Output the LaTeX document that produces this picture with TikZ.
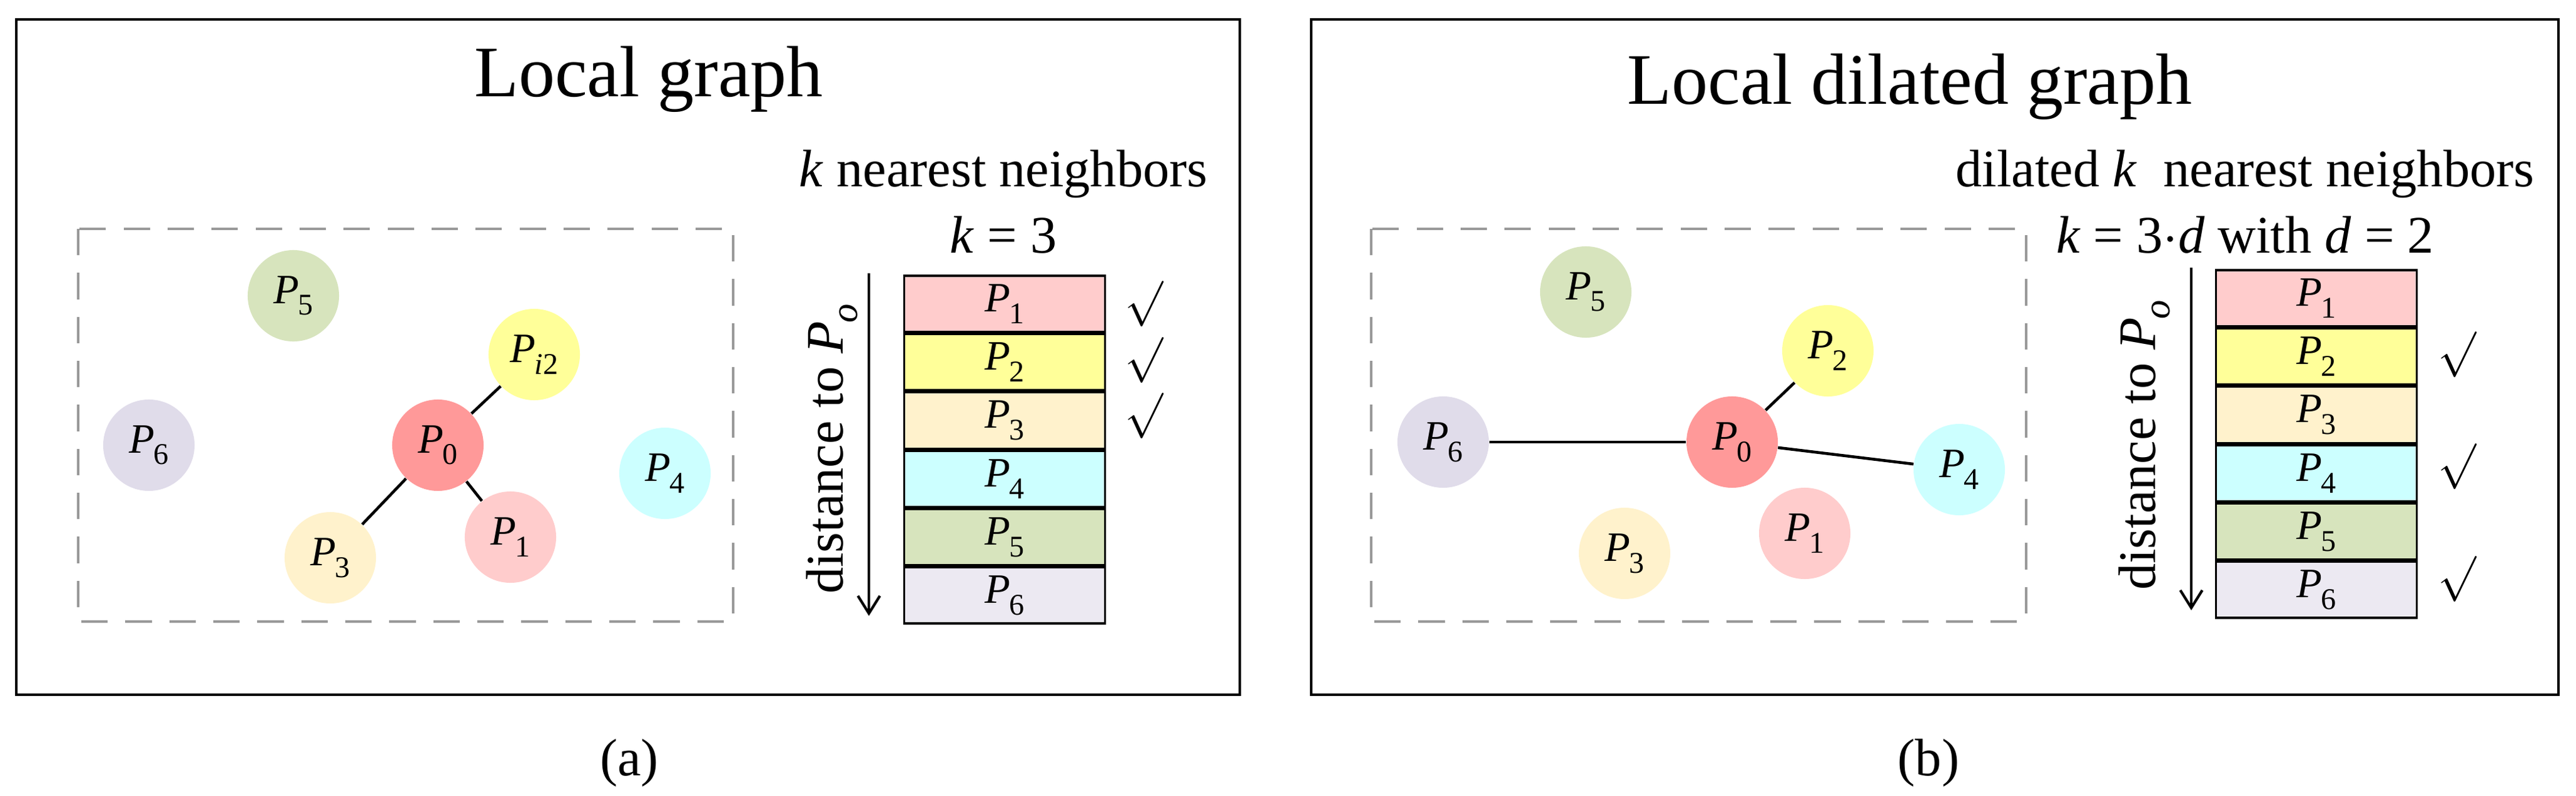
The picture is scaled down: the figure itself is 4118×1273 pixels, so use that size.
\documentclass[tikz,border=0pt]{standalone}
\usepackage{fontspec}
\setmainfont{Liberation Serif}
\usetikzlibrary{arrows.meta}
\newcommand\Pn[1]{\textit{P}\kern-0.03em\raisebox{-0.28em}{\scalebox{0.72}{#1}}}
\definecolor{c0}{HTML}{FF9999}
\definecolor{c1}{HTML}{FFCCCC}
\definecolor{c2}{HTML}{FFFF99}
\definecolor{c3}{HTML}{FFF2CC}
\definecolor{c4}{HTML}{CCFFFF}
\definecolor{c5}{HTML}{D7E4BD}
\definecolor{c6}{HTML}{E0DCEA}
\definecolor{t6}{HTML}{ECE9F2}
\begin{document}
\begin{tikzpicture}[x=0.01cm,y=-0.01cm,
  pt/.style={circle,minimum size=1.46cm,inner sep=0pt,font=\fontsize{19}{22}\selectfont},
  row/.style={draw=black,line width=1pt,minimum width=3.21cm,minimum height=0.897cm,inner sep=0pt,font=\fontsize{19}{22}\selectfont},
  edge/.style={line width=1.3pt},
  frame/.style={draw=black,line width=1.2pt},
  dashbox/.style={draw=gray!80,line width=1.3pt,dash pattern=on 12pt off 8pt},
  ttl/.style={font=\fontsize{33}{36}\selectfont,anchor=base},
  sub/.style={font=\fontsize{24}{28}\selectfont,anchor=base},
  chk/.style={font=\fontsize{22}{24}\selectfont},
  dist/.style={font=\fontsize{24}{28}\selectfont,rotate=90},
  arr/.style={-{Straight Barb[length=8pt,width=10pt]},line width=1.2pt}]
\useasboundingbox (0,0) rectangle (4118,1273);
% ---------- (a) ----------
\draw[frame] (26,31) rectangle (1982,1111);
\node[ttl] (ta) at (1037,155) {Local graph};
\draw[dashbox] (125,366) rectangle (1172,994);
\node[pt,fill=c5] (a5) at (469,473) {\Pn{5}};
\node[pt,fill=c2] (a2) at (854,567) {\Pn{\textit{i}2}};
\node[pt,fill=c6] (a6) at (238,712) {\Pn{6}};
\node[pt,fill=c0] (a0) at (700,712) {\Pn{0}};
\node[pt,fill=c4] (a4) at (1063,757) {\Pn{4}};
\node[pt,fill=c3] (a3) at (528,892) {\Pn{3}};
\node[pt,fill=c1] (a1) at (816,859) {\Pn{1}};
\draw[edge] (a0) -- (a2);
\draw[edge] (a0) -- (a3);
\draw[edge] (a0) -- (a1);
\node[sub] (ka1) at (1604,298) {\textit{k} nearest neighbors};
\node[sub] (ka2) at (1604,404) {\textit{k} = 3};
\node[row,fill=c1] (ra1) at (1606,486) {\Pn{1}};
\node[row,fill=c2,anchor=north] (ra2) at (ra1.south) {\Pn{2}};
\node[row,fill=c3,anchor=north] (ra3) at (ra2.south) {\Pn{3}};
\node[row,fill=c4,anchor=north] (ra4) at (ra3.south) {\Pn{4}};
\node[row,fill=c5,anchor=north] (ra5) at (ra4.south) {\Pn{5}};
\node[row,fill=t6,anchor=north] (ra6) at (ra5.south) {\Pn{6}};
\node[chk] (ca1) at (1829,486) {$\surd$};
\node[chk] (ca2) at (1829,576) {$\surd$};
\node[chk] (ca3) at (1829,665) {$\surd$};
\coordinate (aa1) at (1389,437);
\coordinate (aa2) at (1389,985);
\draw[arr] (aa1) -- (aa2);
\node[dist] (da) at (1330,718) {distance to \Pn{\textit{o}}};
\node[sub] (la) at (1006,1240) {(a)};
% ---------- (b) ----------
\draw[frame] (2096,31) rectangle (4090,1111);
\node[ttl] (tb) at (3053,167) {Local dilated graph};
\draw[dashbox] (2192,366) rectangle (3239,994);
\node[pt,fill=c5] (b5) at (2535,467) {\Pn{5}};
\node[pt,fill=c2] (b2) at (2922,561) {\Pn{2}};
\node[pt,fill=c6] (b6) at (2307,707) {\Pn{6}};
\node[pt,fill=c0] (b0) at (2769,707) {\Pn{0}};
\node[pt,fill=c4] (b4) at (3132,751) {\Pn{4}};
\node[pt,fill=c3] (b3) at (2597,885) {\Pn{3}};
\node[pt,fill=c1] (b1) at (2885,853) {\Pn{1}};
\draw[edge] (b0) -- (b2);
\draw[edge] (b0) -- (b6);
\draw[edge] (b0) -- (b4);
\node[sub] (kb1) at (3589,298) {dilated \textit{k}\ \ nearest neighbors};
\node[sub] (kb2) at (3589,404) {\textit{k} = 3$\cdot$\textit{d} with \textit{d} = 2};
\node[row,fill=c1] (rb1) at (3703,477) {\Pn{1}};
\node[row,fill=c2,anchor=north] (rb2) at (rb1.south) {\Pn{2}};
\node[row,fill=c3,anchor=north] (rb3) at (rb2.south) {\Pn{3}};
\node[row,fill=c4,anchor=north] (rb4) at (rb3.south) {\Pn{4}};
\node[row,fill=c5,anchor=north] (rb5) at (rb4.south) {\Pn{5}};
\node[row,fill=t6,anchor=north] (rb6) at (rb5.south) {\Pn{6}};
\node[chk] (cb2) at (3928,567) {$\surd$};
\node[chk] (cb4) at (3928,746) {$\surd$};
\node[chk] (cb6) at (3928,926) {$\surd$};
\coordinate (ab1) at (3503,428);
\coordinate (ab2) at (3503,976);
\draw[arr] (ab1) -- (ab2);
\node[dist] (db) at (3428,712) {distance to \Pn{\textit{o}}};
\node[sub] (lb) at (3083,1240) {(b)};
\end{tikzpicture}
\end{document}
